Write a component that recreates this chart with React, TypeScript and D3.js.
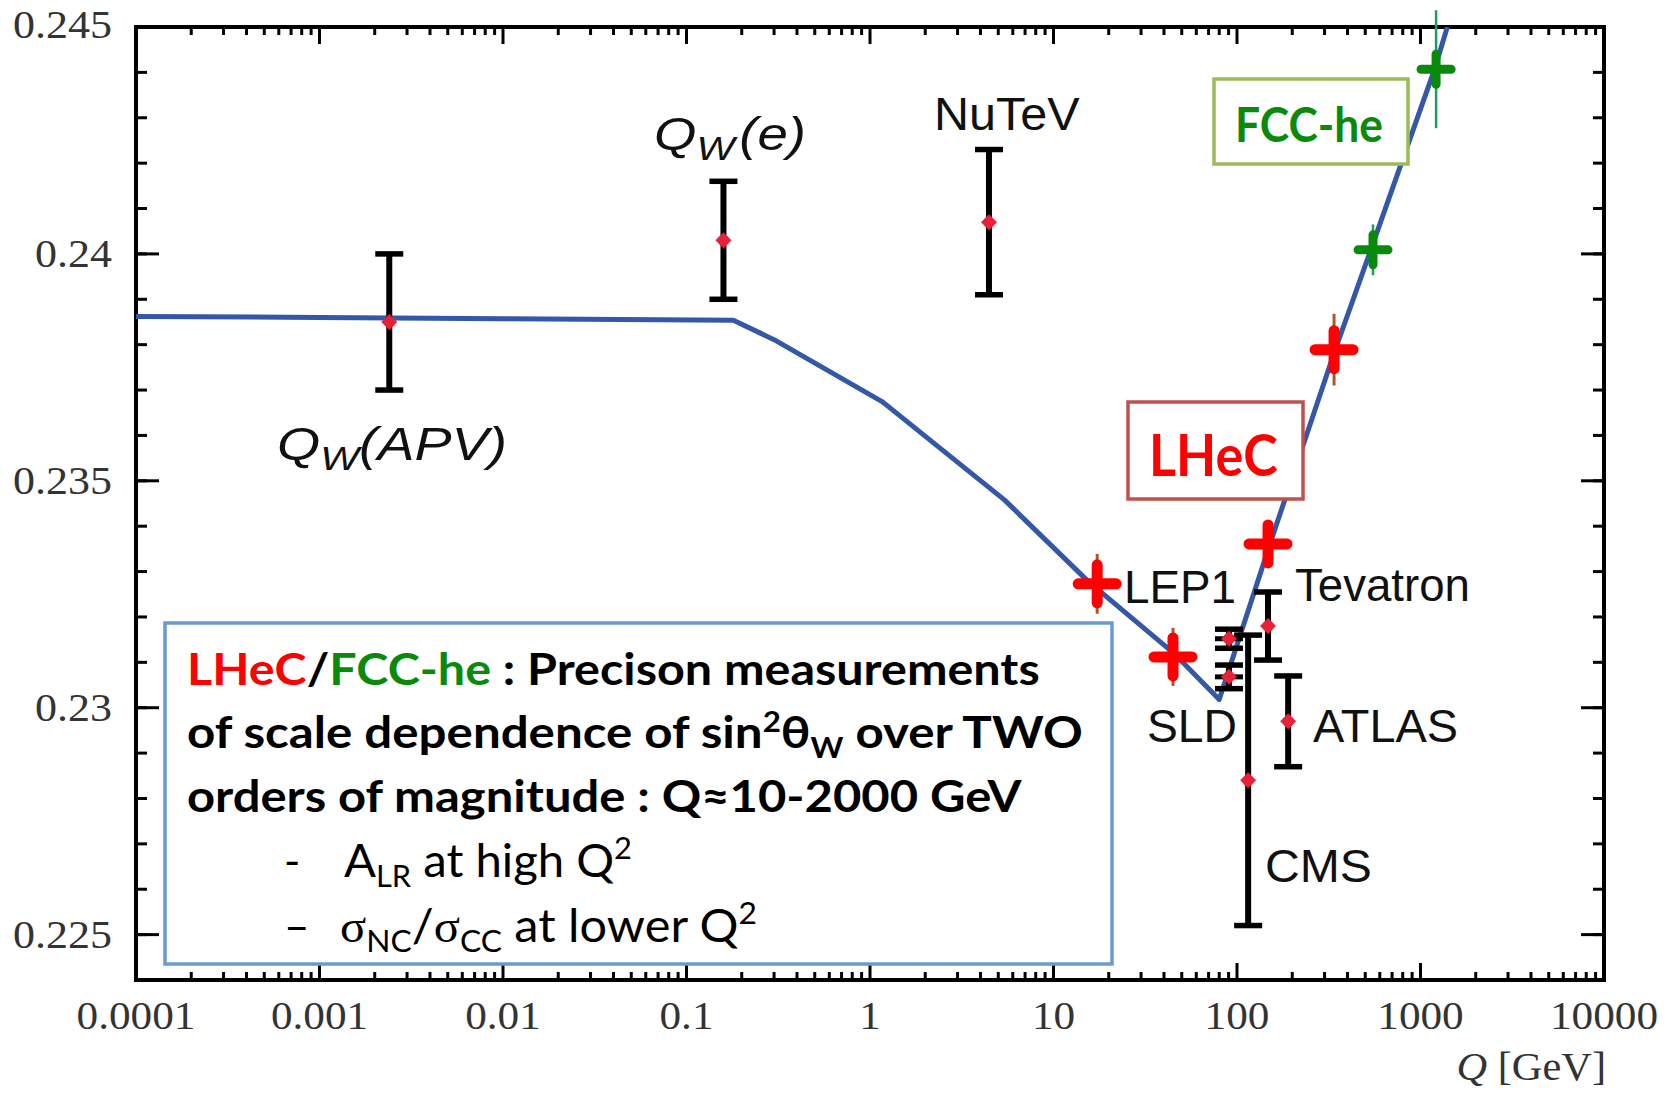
import React, { useLayoutEffect, useRef, useState } from "react";
import * as d3 from "d3";

// ---------- data ----------
const xTickValues = [1e-4, 1e-3, 1e-2, 1e-1, 1, 10, 100, 1000, 10000];
const xTickLabels = ["0.0001", "0.001", "0.01", "0.1", "1", "10", "100", "1000", "10000"];
const yTickValues = [0.225, 0.23, 0.235, 0.24, 0.245];
const yTickLabels = ["0.225", "0.23", "0.235", "0.24", "0.245"];

// running sin^2 theta_W curve
const curveQ = [0.0001, 0.001, 0.01, 0.18, 0.3, 1.17, 5.4, 15.4, 45, 80, 151, 337, 537, 1200, 1400];
const curveS = [0.23862, 0.2386, 0.23857, 0.23854, 0.23811, 0.23674, 0.23458, 0.23279, 0.23121, 0.23018, 0.2336, 0.2378, 0.2401, 0.2441, 0.245];

// existing measurements (black error bars, red dot)
const measNames = ["APV", "Qw(e)", "NuTeV", "SLD a", "SLD b", "Tevatron", "ATLAS", "CMS"];
const measQ = [0.0024, 0.159, 4.45, 90.4, 90.4, 147.6, 190, 115];
const measS = [0.2385, 0.2403, 0.2407, 0.23152, 0.23068, 0.2318, 0.2297, 0.2284];
const measErr = [0.0015, 0.0013, 0.0016, 0.00021, 0.00026, 0.00075, 0.001, 0.0032];
const measMidBar = [false, false, false, true, true, false, false, false];

// LHeC projections (red crosses)
const lhecQ = [17.3, 44.8, 147.6, 338];
const lhecS = [0.23273, 0.23112, 0.23361, 0.23789];
const lhecErr = [0.00066, 0.00064, 0.0005, 0.00079];

// FCC-he projections (green crosses)
const fccQ = [551, 1216];
const fccS = [0.24009, 0.24407];
const fccErr = [0.00056, 0.0013];

// ---------- layout ----------
const W = 1673;
const H = 1093;
const PL = 136, PR = 1604, PT = 27, PB = 980;

const xScale = d3.scaleLog().domain([1e-4, 1e4]).range([PL, PR]);
const yScale = d3.scaleLinear().domain([0.224, 0.245]).range([PB, PT]);

const RED = "#ff0000";
const GREEN = "#0a8a0a";
const BLUE = "#3557a8";
const DOT = "#e8203a";
const SANS = "'Liberation Sans', Arial, sans-serif";
const SERIF = "'Liberation Serif', 'DejaVu Serif', serif";
const CAL = "Lato, 'Open Sans', sans-serif";

function FitText(props: any) {
  const { x, y, width, children, ...rest } = props;
  const ref = useRef<SVGTextElement>(null);
  const [sx, setSx] = useState(1);
  useLayoutEffect(() => {
    if (ref.current) {
      const w = ref.current.getBBox().width;
      if (w > 0) setSx(width / w);
    }
  }, [width]);
  return (
    <g transform={`translate(${x},${y}) scale(${sx},1)`}>
      <text ref={ref} x={0} y={0} {...rest}>
        {children}
      </text>
    </g>
  );
}

export default function App() {
  const line = d3
    .line<number>()
    .x((_, i) => xScale(curveQ[i]))
    .y((_, i) => yScale(curveS[i]));
  const curvePath = line(curveS) || "";

  // ticks
  const xMinor: number[] = [];
  for (let e = -4; e < 4; e++) for (let m = 2; m <= 9; m++) xMinor.push(m * Math.pow(10, e));
  const yMinor: number[] = [];
  for (let k = 0; k <= 21; k++) yMinor.push(0.224 + k * 0.001);

  const capW = 14;
  const labelFs = 46;

  return (
    <svg width={W} height={H} style={{ position: "absolute", left: 0, top: 0, background: "#fff" }}>
      <defs>
        <clipPath id="plotclip">
          <rect x={PL} y={PT} width={PR - PL} height={PB - PT} />
        </clipPath>
      </defs>
      <rect x={0} y={0} width={W} height={H} fill="#fff" />

      {/* ticks */}
      <g stroke="#000" strokeWidth={3}>
        {xTickValues.map((v, i) => (
          <g key={"xt" + i}>
            <line x1={xScale(v)} x2={xScale(v)} y1={PB} y2={PB - 17} />
            <line x1={xScale(v)} x2={xScale(v)} y1={PT} y2={PT + 17} />
          </g>
        ))}
        {xMinor.map((v, i) => (
          <g key={"xm" + i}>
            <line x1={xScale(v)} x2={xScale(v)} y1={PB} y2={PB - 8} />
            <line x1={xScale(v)} x2={xScale(v)} y1={PT} y2={PT + 8} />
          </g>
        ))}
        {yMinor.map((v, i) => (
          <g key={"ym" + i}>
            <line x1={PL} x2={PL + 11} y1={yScale(v)} y2={yScale(v)} />
            <line x1={PR} x2={PR - 11} y1={yScale(v)} y2={yScale(v)} />
          </g>
        ))}
        {yTickValues.map((v, i) => (
          <g key={"yt" + i}>
            <line x1={PL} x2={PL + 23} y1={yScale(v)} y2={yScale(v)} />
            <line x1={PR} x2={PR - 23} y1={yScale(v)} y2={yScale(v)} />
          </g>
        ))}
      </g>
      <rect x={PL} y={PT} width={PR - PL} height={PB - PT} fill="none" stroke="#000" strokeWidth={4} />

      {/* tick labels */}
      <g fontFamily={SERIF} fontSize={40} fill="#333">
        {xTickValues.map((v, i) => (
          <text
            key={"xl" + i}
            transform={`translate(${xScale(v)},1029) scale(1.08,1)`}
            textAnchor="middle"
          >
            {xTickLabels[i]}
          </text>
        ))}
        {yTickValues.map((v, i) => (
          <text
            key={"yl" + i}
            transform={`translate(112,${i === 4 ? 38 : yScale(v) + 13}) scale(1.1,1)`}
            textAnchor="end"
          >
            {yTickLabels[i]}
          </text>
        ))}
        <text transform="translate(1606,1080) scale(1.06,1)" textAnchor="end">
          <tspan fontStyle="italic">Q</tspan>
          <tspan> [GeV]</tspan>
        </text>
      </g>

      {/* curve */}
      <path d={curvePath} fill="none" stroke={BLUE} strokeWidth={5} clipPath="url(#plotclip)" strokeLinejoin="round" />

      {/* measurements */}
      {measQ.map((q, i) => {
        const x = xScale(q);
        const y0 = yScale(measS[i] - measErr[i]);
        const y1 = yScale(measS[i] + measErr[i]);
        const yc = yScale(measS[i]);
        return (
          <g key={"m" + i} stroke="#000">
            <line x1={x} x2={x} y1={y0} y2={y1} strokeWidth={6} />
            <line x1={x - capW} x2={x + capW} y1={y0} y2={y0} strokeWidth={5.5} />
            <line x1={x - capW} x2={x + capW} y1={y1} y2={y1} strokeWidth={5.5} />
            {measMidBar[i] && <line x1={x - capW} x2={x + capW} y1={yc} y2={yc} strokeWidth={5} />}
          </g>
        );
      })}
      {measQ.map((q, i) => {
        const x = xScale(q);
        const y = yScale(measS[i]);
        const r = 8;
        return (
          <g key={"d" + i} fill={DOT}>
            <path d={`M${x},${y - r}L${x + r},${y}L${x},${y + r}L${x - r},${y}Z`} />
            <circle cx={x} cy={y} r={5.5} />
          </g>
        );
      })}

      {/* LHeC crosses */}
      {lhecQ.map((q, i) => {
        const x = xScale(q);
        const y = yScale(lhecS[i]);
        const h = 19;
        return (
          <g key={"l" + i}>
            <line x1={x} x2={x} y1={yScale(lhecS[i] + lhecErr[i])} y2={yScale(lhecS[i] - lhecErr[i])} stroke="#a8582a" strokeWidth={3} />
            <g stroke={RED} strokeWidth={11} strokeLinecap="round">
              <line x1={x - h} x2={x + h} y1={y} y2={y} />
              <line x1={x} x2={x} y1={y - h} y2={y + h} />
            </g>
          </g>
        );
      })}

      {/* FCC-he crosses */}
      {fccQ.map((q, i) => {
        const x = xScale(q);
        const y = yScale(fccS[i]);
        const h = 15;
        return (
          <g key={"f" + i}>
            <line x1={x} x2={x} y1={yScale(fccS[i] + fccErr[i])} y2={yScale(fccS[i] - fccErr[i])} stroke="#1f9d5a" strokeWidth={2.5} />
            <g stroke={GREEN} strokeWidth={9} strokeLinecap="round">
              <line x1={x - h} x2={x + h} y1={y} y2={y} />
              <line x1={x} x2={x} y1={y - h} y2={y + h} />
            </g>
          </g>
        );
      })}

      {/* measurement labels */}
      <g fontFamily={SANS} fontSize={labelFs} fill="#111">
        <FitText x={277} y={460} width={230} fontFamily={SANS} fontSize={labelFs} fontStyle="italic">
          <tspan>Q</tspan>
          <tspan dy={10} fontSize={34}>W</tspan>
          <tspan dy={-10}>(APV)</tspan>
        </FitText>
        <FitText x={654} y={150} width={152} fontFamily={SANS} fontSize={labelFs} fontStyle="italic">
          <tspan>Q</tspan>
          <tspan dy={10} fontSize={34}>W</tspan>
          <tspan dy={-10} dx={4}>(e)</tspan>
        </FitText>
        <FitText x={934} y={130} width={146} fontFamily={SANS} fontSize={labelFs}>NuTeV</FitText>
        <FitText x={1124} y={603} width={112} fontFamily={SANS} fontSize={labelFs}>LEP1</FitText>
        <FitText x={1295} y={601} width={175} fontFamily={SANS} fontSize={labelFs}>Tevatron</FitText>
        <FitText x={1147} y={742} width={90} fontFamily={SANS} fontSize={labelFs}>SLD</FitText>
        <FitText x={1313} y={742} width={145} fontFamily={SANS} fontSize={labelFs}>ATLAS</FitText>
        <FitText x={1265} y={882} width={107} fontFamily={SANS} fontSize={labelFs}>CMS</FitText>
      </g>

      {/* FCC-he box */}
      <rect x={1214} y={79} width={194} height={85} fill="#fff" stroke="#9bbb59" strokeWidth={3.5} />
      <FitText x={1235} y={142} width={148} fontFamily={CAL} fontWeight="bold" fontSize={48} fill={GREEN}>FCC-he</FitText>

      {/* LHeC box */}
      <rect x={1128} y={402} width={175} height={97} fill="#fff" stroke="#c0504d" strokeWidth={3.5} />
      <FitText x={1149} y={476} width={129} fontFamily={CAL} fontWeight="bold" fontSize={57} fill={RED}>LHeC</FitText>

      {/* text box */}
      <rect x={165} y={623} width={947} height={341} fill="#fff" stroke="#6a9bd0" strokeWidth={3.5} />
      <FitText x={187} y={685} width={853} fontFamily={CAL} fontWeight="bold" fontSize={44} fill="#000">
        <tspan fill={RED}>LHeC</tspan>
        <tspan>/</tspan>
        <tspan fill={GREEN}>FCC-he</tspan>
        <tspan> : Precison measurements</tspan>
      </FitText>
      <FitText x={187} y={748} width={896} fontFamily={CAL} fontWeight="bold" fontSize={44} fill="#000">
        <tspan>of scale dependence of sin</tspan>
        <tspan dy={-16} fontSize={28}>2</tspan>
        <tspan dy={16}>θ</tspan>
        <tspan dy={10} fontSize={28}>W</tspan>
        <tspan dy={-10}> over TWO</tspan>
      </FitText>
      <FitText x={187} y={812} width={835} fontFamily={CAL} fontWeight="bold" fontSize={44} fill="#000">
        orders of magnitude : Q≈10-2000 GeV
      </FitText>
      <text x={284} y={877} fontFamily={CAL} fontSize={44} fill="#000">-</text>
      <FitText x={344} y={877} width={288} fontFamily={CAL} fontSize={46} fill="#000">
        <tspan>A</tspan>
        <tspan dy={10} fontSize={30}>LR</tspan>
        <tspan dy={-10}> at high Q</tspan>
        <tspan dy={-18} fontSize={30}>2</tspan>
      </FitText>
      <text x={284} y={942} fontFamily={CAL} fontSize={44} fill="#000">–</text>
      <FitText x={340} y={942} width={417} fontFamily={CAL} fontSize={46} fill="#000">
        <tspan fontFamily={SERIF}>σ</tspan>
        <tspan dy={10} fontSize={30}>NC</tspan>
        <tspan dy={-10}>/</tspan>
        <tspan fontFamily={SERIF}>σ</tspan>
        <tspan dy={10} fontSize={30}>CC</tspan>
        <tspan dy={-10}> at lower Q</tspan>
        <tspan dy={-18} fontSize={30}>2</tspan>
      </FitText>
    </svg>
  );
}
